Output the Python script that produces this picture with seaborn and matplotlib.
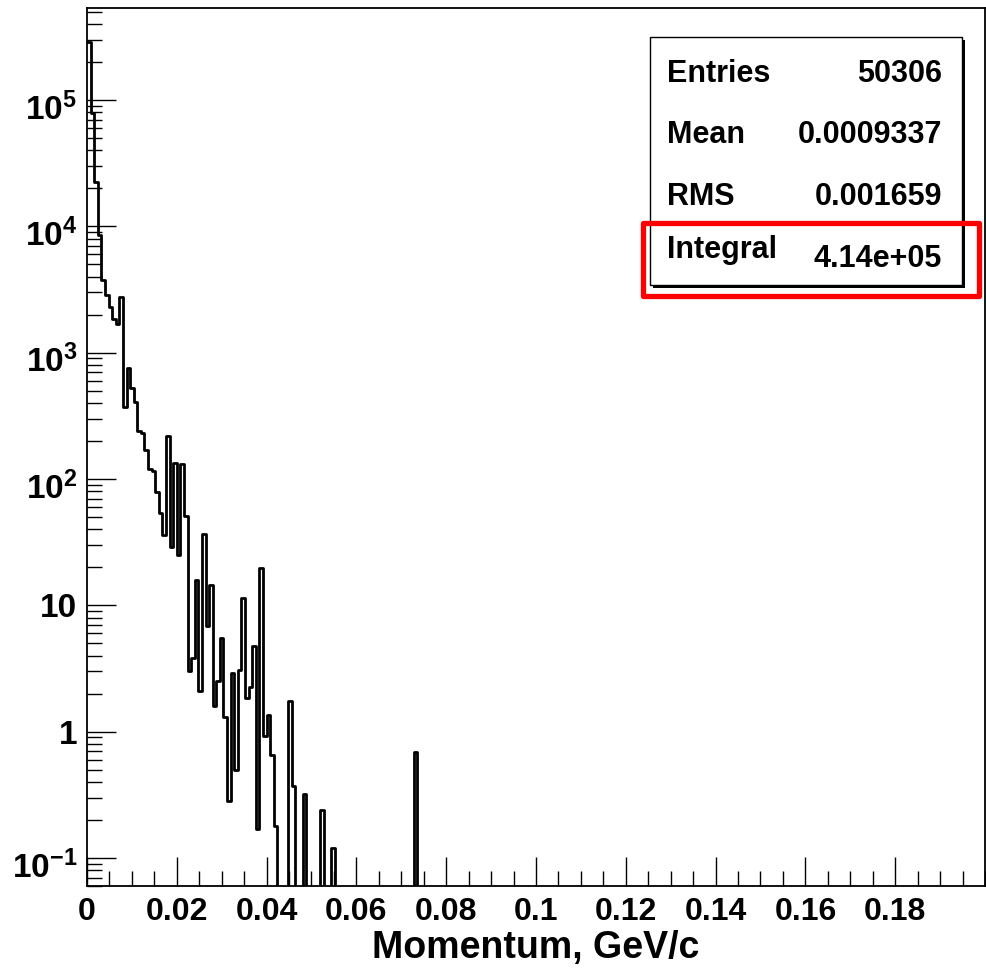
import numpy as np
import pandas as pd
import matplotlib
matplotlib.use("Agg")
import matplotlib.pyplot as plt
import matplotlib.ticker as mticker
import matplotlib.transforms as mtransforms
from matplotlib.patches import Rectangle
import seaborn as sns

# histogram contents, 0.0008 GeV/c bins starting at 0
counts = [288000, 79000, 22400, 8500, 3760, 2860, 2300, 1850, 1680, 2760,
          371, 755, 525, 406, 240, 232, 169, 121, 116, 79,
          53.5, 36, 219, 29, 134, 25, 131, 51, 3.0, 3.8,
          16, 2.1, 37, 6.8, 14.6, 1.6, 2.5, 5.5, 1.3, 0.28,
          2.9, 0.50, 3.07, 11.4, 1.85, 2.25, 4.75, 0.17, 19.7, 0.93,
          1.35, 0.65, 0.18, 0, 0, 0, 1.75, 0.37, 0, 0,
          0.32, 0, 0, 0, 0, 0.24, 0, 0, 0.12, 0,
          0, 0, 0, 0, 0, 0, 0, 0, 0, 0,
          0, 0, 0, 0, 0, 0, 0, 0, 0, 0,
          0, 0.69, 0]
bin_width = 0.0008

x_ticks = [0, 0.02, 0.04, 0.06, 0.08, 0.1, 0.12, 0.14, 0.16, 0.18]
x_labels = ["0", "0.02", "0.04", "0.06", "0.08", "0.1", "0.12", "0.14", "0.16", "0.18"]
y_ticks = [1e-1, 1, 10, 1e2, 1e3, 1e4, 1e5]
y_labels = [r"$10^{-1}$", "1", "10", r"$10^{2}$", r"$10^{3}$", r"$10^{4}$", r"$10^{5}$"]

stat_names = ["Entries", "Mean", "RMS", "Integral"]
stat_values = ["50306", "0.0009337", "0.001659", "4.14e+05"]

sns.set_style("white")
plt.rcParams["font.family"] = ["Liberation Sans", "DejaVu Sans"]
plt.rcParams["mathtext.fontset"] = "custom"
plt.rcParams["mathtext.rm"] = "Liberation Sans:bold"
plt.rcParams["mathtext.bf"] = "Liberation Sans:bold"
plt.rcParams["mathtext.default"] = "rm"
plt.rcParams["text.color"] = "black"
plt.rcParams["xtick.color"] = "black"
plt.rcParams["ytick.color"] = "black"
plt.rcParams["axes.labelcolor"] = "black"

W, H = 987, 971
fig = plt.figure(figsize=(W / 100, H / 100), dpi=100)
ax = fig.add_axes([87 / W, 1 - 886 / H, (985 - 87) / W, (886 - 8) / H])

edges = np.arange(len(counts) + 1) * bin_width
df = pd.DataFrame({"p": edges[:-1] + bin_width / 2, "w": counts})
sns.histplot(data=df, x="p", weights="w", bins=list(edges), element="step", fill=False,
             color="black", linewidth=2.0, ax=ax)

ax.set_yscale("log")
ax.set_xlim(0, 0.2)
ax.set_ylim(0.06, 5.35e5)

ax.xaxis.set_major_locator(mticker.FixedLocator(x_ticks))
ax.xaxis.set_minor_locator(mticker.MultipleLocator(0.005))
ax.set_xticklabels(x_labels)
ax.yaxis.set_major_locator(mticker.FixedLocator(y_ticks))
ax.yaxis.set_minor_locator(mticker.LogLocator(base=10, subs=np.arange(2, 10), numticks=30))
ax.yaxis.set_minor_formatter(mticker.NullFormatter())
ax.set_yticklabels(y_labels)

ax.tick_params(which="both", direction="in", bottom=True, left=True, top=False, right=False,
               color="black", width=1.0)
ax.tick_params(which="major", length=21)
ax.tick_params(which="minor", length=11)
ax.tick_params(axis="x", pad=8, labelsize=23)
ax.tick_params(axis="y", pad=7, labelsize=24)
for lab in ax.get_xticklabels() + ax.get_yticklabels():
    lab.set_fontweight("bold")

# ROOT puts the base of 10^n on the tick, so nudge those labels down
shift = mtransforms.ScaledTranslation(0, -6 / 100, fig.dpi_scale_trans)
for lab, txt in zip(ax.get_yticklabels(), y_labels):
    if "^" in txt:
        lab.set_transform(lab.get_transform() + shift)

for s in ax.spines.values():
    s.set_color("black")
    s.set_linewidth(1.3)

ax.set_xlabel("Momentum, GeV/c", fontsize=27, fontweight="bold", labelpad=2)
ax.set_ylabel("")

# stats box with shadow
def fx(px):
    return px / W

def fy(py):
    return 1 - py / H

fig.patches.append(Rectangle((fx(653), fy(288)), fx(962) - fx(650), fy(36.7) - fy(285),
                             transform=fig.transFigure, facecolor="black", edgecolor="none", zorder=5))
fig.patches.append(Rectangle((fx(650), fy(285)), fx(962) - fx(650), fy(36.7) - fy(285),
                             transform=fig.transFigure, facecolor="white", edgecolor="black",
                             linewidth=1.0, zorder=6))

baselines_name = [81.7, 143.3, 205, 258.3]
baselines_val = [81.7, 143.3, 205, 266.7]
for name, val, bn, bv in zip(stat_names, stat_values, baselines_name, baselines_val):
    fig.text(fx(667), fy(bn), name, fontsize=22, fontweight="bold", ha="left", va="baseline", zorder=7)
    fig.text(fx(942), fy(bv), val, fontsize=22, fontweight="bold", ha="right", va="baseline", zorder=7)

fig.patches.append(Rectangle((fx(643), fy(296)), fx(979) - fx(643), fy(223) - fy(296),
                             transform=fig.transFigure, facecolor="none", edgecolor="#ff0000",
                             linewidth=3.8, joinstyle="round", zorder=8))

fig.savefig("out.png", dpi=100)
